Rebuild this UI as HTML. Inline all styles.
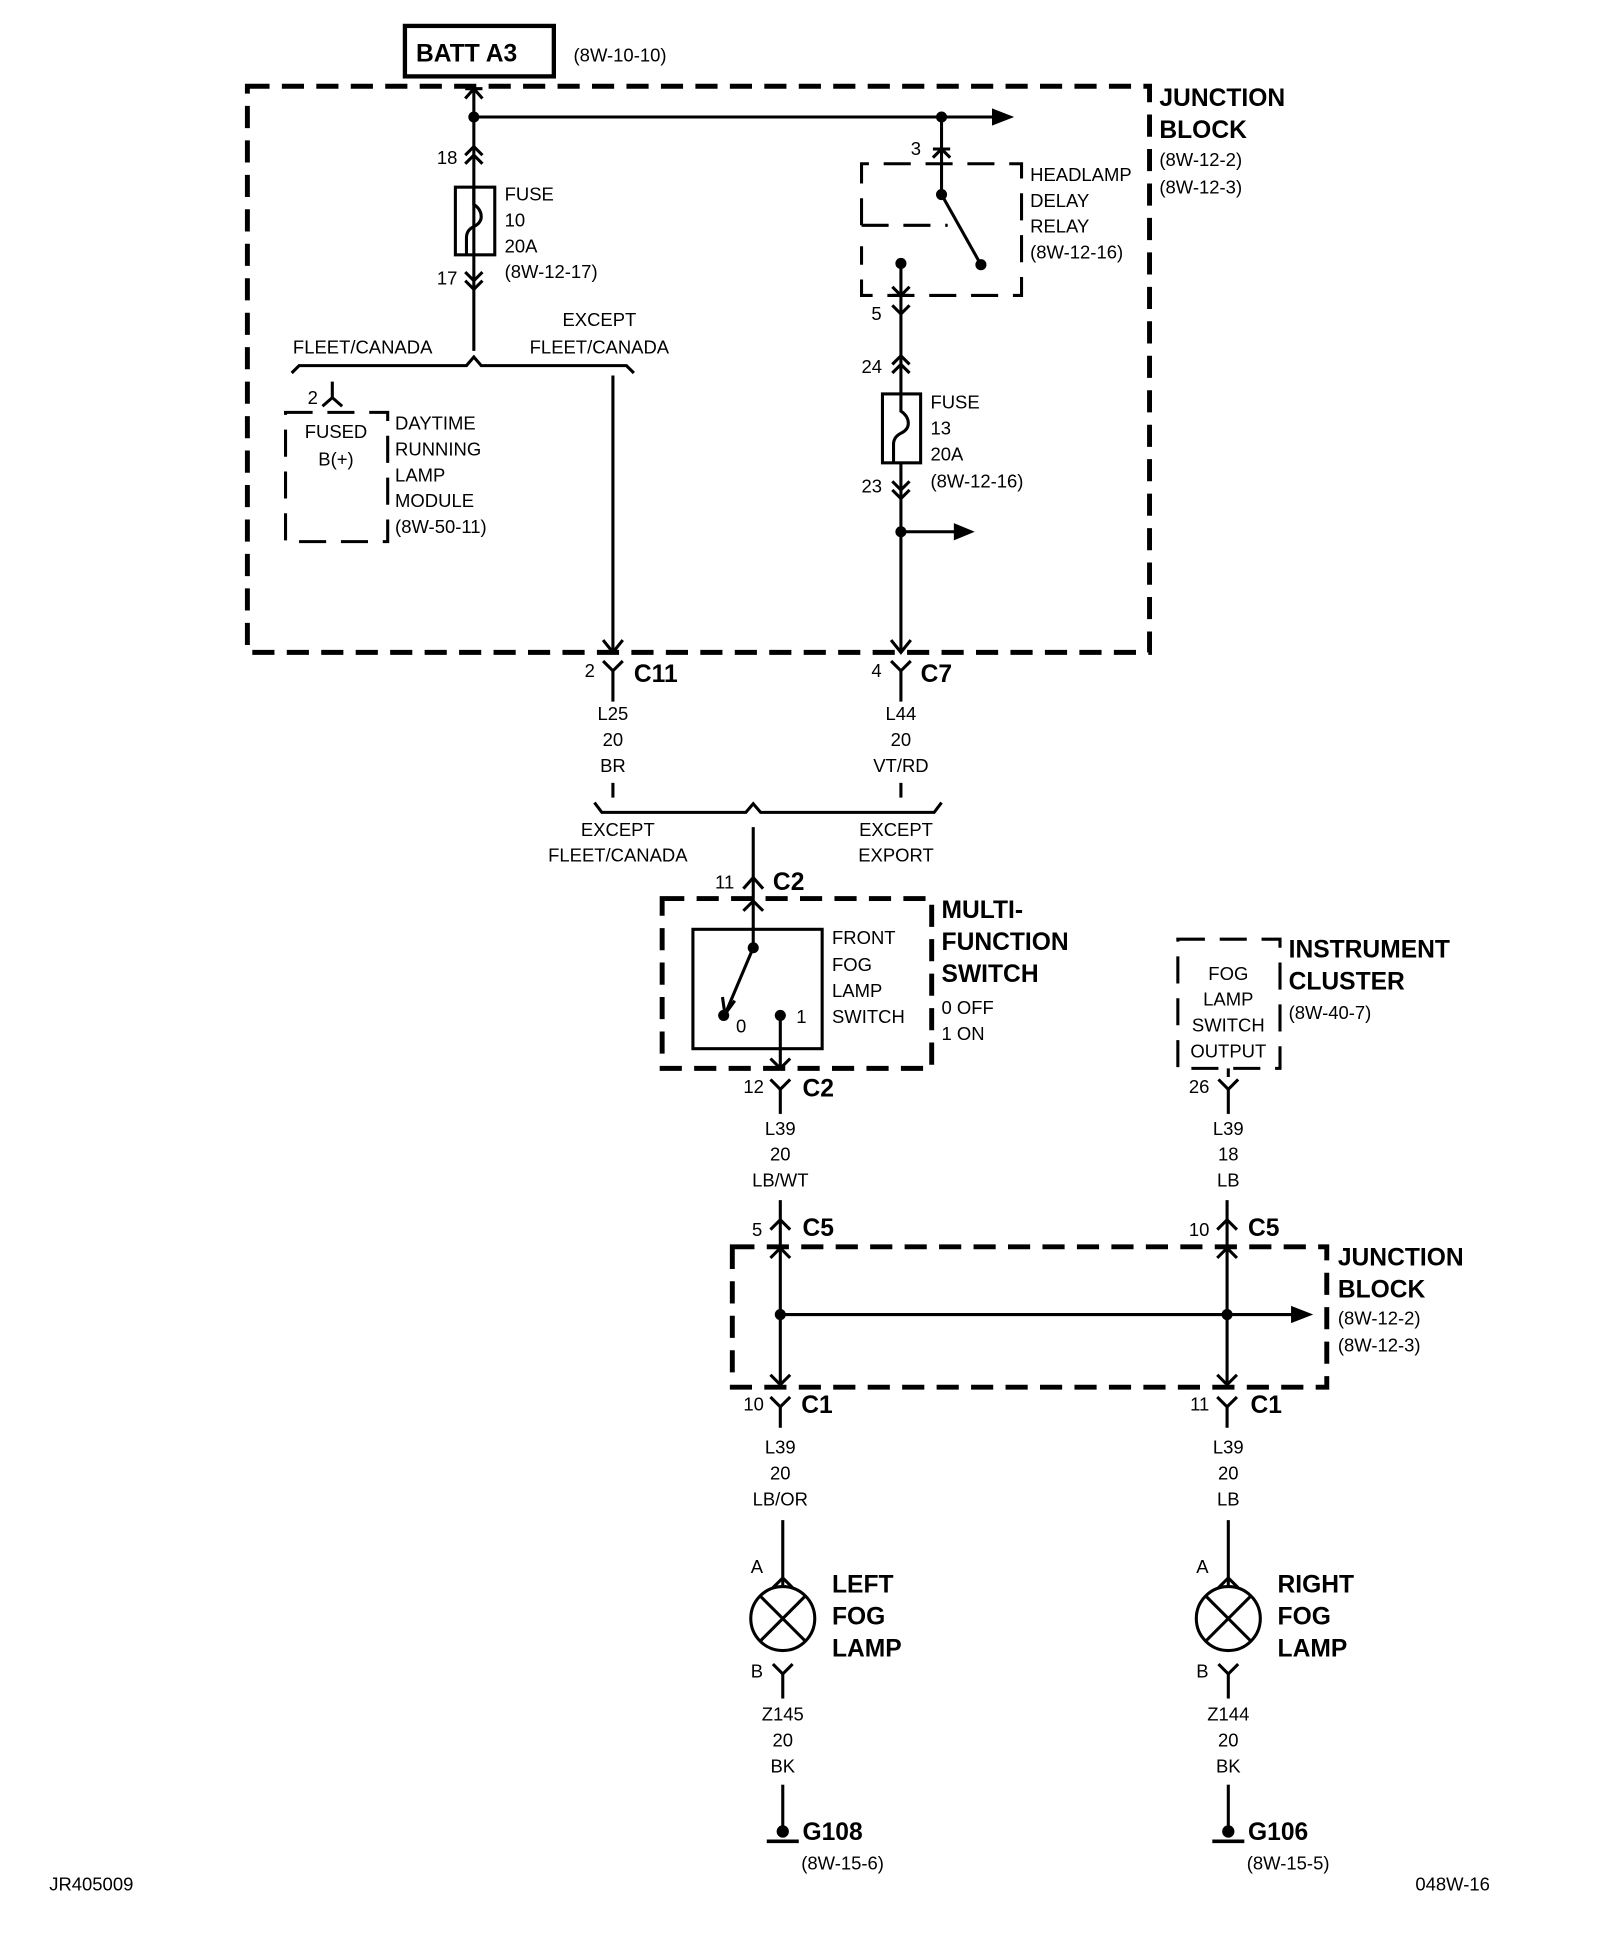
<!DOCTYPE html>
<html><head><meta charset="utf-8"><style>
html,body{margin:0;padding:0;background:#fff;}
svg{display:block;}
text{font-family:"Liberation Sans Narrow","Liberation Sans",sans-serif;fill:#000;}
.t{font-size:15px;}
.b{font-size:20px;font-weight:bold;}
.c{text-anchor:middle;}
</style></head><body>
<svg width="1600" height="1946" viewBox="0 0 1300 1581" xmlns="http://www.w3.org/2000/svg">
<g fill="none" stroke="#000" stroke-width="2.5">
<!-- BATT -->
<rect x="329" y="21" width="121" height="41" stroke-width="3.5"/>
<!-- junction block 1 -->
<rect x="201" y="70" width="733" height="460" stroke-width="4" stroke-dasharray="18,10"/>
<!-- main wire -->
<line x1="385" y1="70" x2="385" y2="285"/>
<polyline points="378,80 385,72 392,80"/><line x1="378" y1="72" x2="392" y2="72"/>
<line x1="385" y1="95" x2="810" y2="95"/>
<polyline points="378,126 385,119 392,126"/><polyline points="378,133 385,126 392,133"/>
<rect x="370" y="152" width="32" height="55"/>
<path d="M385,152 v14 q6,4 6,10 q0,5 -6,8 q-6,3 -6,9 v14"/>
<polyline points="378,221 385,228 392,221"/><polyline points="378,228 385,235 392,228"/>
<polyline points="237,303 243,297 379,297 385,290 391,297 509,297 515,303"/>
<!-- DRL -->
<line x1="270" y1="310" x2="270" y2="323"/><polyline points="262,330 270,323 278,330"/>
<rect x="232" y="335" width="83" height="105" stroke-dasharray="22,12"/>
<!-- except wire -->
<line x1="498" y1="305" x2="498" y2="530"/>
<polyline points="490,520 498,530 506,520"/>
<polyline points="490,537 498,545 506,537"/><line x1="498" y1="545" x2="498" y2="570"/>
<!-- relay side -->
<line x1="765" y1="95" x2="765" y2="158"/>
<polyline points="758,128 765,121 772,128"/><line x1="758" y1="121" x2="772" y2="121"/>
<path d="M700,183 V133 H830 V240 H700 V200" stroke-dasharray="22,12"/>
<line x1="700" y1="183" x2="770" y2="183" stroke-dasharray="22,12"/>
<line x1="765" y1="158" x2="797" y2="215"/>
<line x1="732" y1="214" x2="732" y2="530"/>
<polyline points="725,233 732,240 739,233"/><line x1="725" y1="240" x2="739" y2="240"/>
<polyline points="725,248 732,255 739,248"/>
<polyline points="725,296 732,289 739,296"/><polyline points="725,303 732,296 739,303"/>
<rect x="717" y="320" width="31" height="56" fill="#fff"/>
<path d="M732,320 v14 q6,4 6,10 q0,5 -6,8 q-6,3 -6,9 v15"/>
<polyline points="725,391 732,398 739,391"/><polyline points="725,398 732,405 739,398"/>
<line x1="732" y1="432" x2="780" y2="432"/>
<polyline points="724,520 732,530 740,520"/>
<polyline points="724,537 732,545 740,537"/><line x1="732" y1="545" x2="732" y2="570"/>
<line x1="498" y1="636" x2="498" y2="648"/><line x1="732" y1="636" x2="732" y2="648"/>
<polyline points="483,652 489,660 606,660 612,653 618,660 759,660 765,652"/>
<!-- MFS -->
<line x1="612" y1="672" x2="612" y2="770"/>
<polyline points="604,722 612,713 620,722"/>
<polyline points="604,740 612,732 620,740"/>
<rect x="538" y="730" width="219" height="138" stroke-width="4" stroke-dasharray="18,10"/>
<rect x="563" y="755" width="105" height="97"/>
<line x1="612" y1="770" x2="590" y2="822"/>
<polyline points="587,810 589,824 597,813"/>
<line x1="634" y1="825" x2="634" y2="868"/>
<polyline points="626,860 634,868 642,860"/>
<polyline points="626,877 634,885 642,877"/><line x1="634" y1="885" x2="634" y2="905"/>
<line x1="634" y1="975" x2="634" y2="1127"/>
<polyline points="626,999 634,991 642,999"/>
<polyline points="626,1022 634,1014 642,1022"/>
<!-- IC -->
<rect x="957" y="763" width="83" height="105" stroke-dasharray="22,12"/>
<line x1="998" y1="868" x2="998" y2="875"/>
<polyline points="990,877 998,885 1006,877"/><line x1="998" y1="885" x2="998" y2="905"/>
<line x1="997" y1="975" x2="997" y2="1127"/>
<polyline points="989,999 997,991 1005,999"/>
<polyline points="989,1022 997,1014 1005,1022"/>
<!-- JB2 -->
<rect x="595" y="1013" width="483" height="114" stroke-width="4" stroke-dasharray="18,10"/>
<line x1="634" y1="1068" x2="1055" y2="1068"/>
<polyline points="626,1117 634,1125 642,1117"/>
<polyline points="626,1135 634,1143 642,1135"/><line x1="634" y1="1143" x2="634" y2="1160"/>
<polyline points="989,1117 997,1125 1005,1117"/>
<polyline points="989,1135 997,1143 1005,1135"/><line x1="997" y1="1143" x2="997" y2="1160"/>
<!-- lamps -->
<line x1="636" y1="1235" x2="636" y2="1288"/>
<polyline points="628,1290 636,1282 644,1290"/>
<circle cx="636" cy="1315" r="26"/>
<line x1="618" y1="1297" x2="654" y2="1333"/><line x1="654" y1="1297" x2="618" y2="1333"/>
<polyline points="628,1352 636,1360 644,1352"/><line x1="636" y1="1360" x2="636" y2="1380"/>
<line x1="636" y1="1450" x2="636" y2="1488"/>
<line x1="623" y1="1496" x2="649" y2="1496" stroke-width="3"/>
<line x1="998" y1="1235" x2="998" y2="1288"/>
<polyline points="990,1290 998,1282 1006,1290"/>
<circle cx="998" cy="1315" r="26"/>
<line x1="980" y1="1297" x2="1016" y2="1333"/><line x1="1016" y1="1297" x2="980" y2="1333"/>
<polyline points="990,1352 998,1360 1006,1352"/><line x1="998" y1="1360" x2="998" y2="1380"/>
<line x1="998" y1="1450" x2="998" y2="1488"/>
<line x1="985" y1="1496" x2="1011" y2="1496" stroke-width="3"/>
</g>
<g fill="#000">
<circle cx="385" cy="95" r="4.5"/><circle cx="765" cy="95" r="4.5"/>
<polygon points="806,88 824,95 806,102"/>
<circle cx="765" cy="158" r="4.5"/><circle cx="797" cy="215" r="4.5"/><circle cx="732" cy="214" r="4.5"/>
<circle cx="732" cy="432" r="4.5"/><polygon points="775,425 792,432 775,439"/>
<circle cx="612" cy="770" r="4.5"/><circle cx="588" cy="825" r="4.5"/><circle cx="634" cy="825" r="4.5"/>
<circle cx="634" cy="1068" r="4.5"/><circle cx="997" cy="1068" r="4.5"/>
<polygon points="1049,1061 1067,1068 1049,1075"/>
<circle cx="636" cy="1488" r="5"/><circle cx="998" cy="1488" r="5"/>
</g>
<text x="338" y="50" class="b">BATT A3</text>
<text x="466" y="50" class="t">(8W-10-10)</text>
<text x="942" y="86" class="b">JUNCTION</text><text x="942" y="112" class="b">BLOCK</text>
<text x="942" y="135" class="t">(8W-12-2)</text><text x="942" y="157" class="t">(8W-12-3)</text>
<text x="355" y="133" class="t">18</text><text x="355" y="231" class="t">17</text>
<text x="410" y="163" class="t">FUSE</text><text x="410" y="184" class="t">10</text><text x="410" y="205" class="t">20A</text><text x="410" y="226" class="t">(8W-12-17)</text>
<text x="238" y="287" class="t">FLEET/CANADA</text>
<text x="487" y="265" class="t c">EXCEPT</text><text x="487" y="287" class="t c">FLEET/CANADA</text>
<text x="250" y="328" class="t">2</text>
<text x="273" y="356" class="t c">FUSED</text><text x="273" y="378" class="t c">B(+)</text>
<text x="321" y="349" class="t">DAYTIME</text><text x="321" y="370" class="t">RUNNING</text><text x="321" y="391" class="t">LAMP</text><text x="321" y="412" class="t">MODULE</text><text x="321" y="433" class="t">(8W-50-11)</text>
<text x="740" y="126" class="t">3</text>
<text x="837" y="147" class="t">HEADLAMP</text><text x="837" y="168" class="t">DELAY</text><text x="837" y="189" class="t">RELAY</text><text x="837" y="210" class="t">(8W-12-16)</text>
<text x="708" y="260" class="t">5</text><text x="700" y="303" class="t">24</text><text x="700" y="400" class="t">23</text>
<text x="756" y="332" class="t">FUSE</text><text x="756" y="353" class="t">13</text><text x="756" y="374" class="t">20A</text><text x="756" y="396" class="t">(8W-12-16)</text>
<text x="475" y="550" class="t">2</text><text x="515" y="554" class="b">C11</text>
<text x="708" y="550" class="t">4</text><text x="748" y="554" class="b">C7</text>
<text x="498" y="585" class="t c">L25</text><text x="498" y="606" class="t c">20</text><text x="498" y="627" class="t c">BR</text>
<text x="732" y="585" class="t c">L44</text><text x="732" y="606" class="t c">20</text><text x="732" y="627" class="t c">VT/RD</text>
<text x="502" y="679" class="t c">EXCEPT</text><text x="502" y="700" class="t c">FLEET/CANADA</text>
<text x="728" y="679" class="t c">EXCEPT</text><text x="728" y="700" class="t c">EXPORT</text>
<text x="581" y="722" class="t">11</text><text x="628" y="723" class="b">C2</text>
<text x="765" y="746" class="b">MULTI-</text><text x="765" y="772" class="b">FUNCTION</text><text x="765" y="798" class="b">SWITCH</text>
<text x="765" y="824" class="t">0 OFF</text><text x="765" y="845" class="t">1 ON</text>
<text x="676" y="767" class="t">FRONT</text><text x="676" y="789" class="t">FOG</text><text x="676" y="810" class="t">LAMP</text><text x="676" y="831" class="t">SWITCH</text>
<text x="598" y="839" class="t">0</text><text x="647" y="831" class="t">1</text>
<text x="604" y="888" class="t">12</text><text x="652" y="891" class="b">C2</text>
<text x="634" y="922" class="t c">L39</text><text x="634" y="943" class="t c">20</text><text x="634" y="964" class="t c">LB/WT</text>
<text x="998" y="796" class="t c">FOG</text><text x="998" y="817" class="t c">LAMP</text><text x="998" y="838" class="t c">SWITCH</text><text x="998" y="859" class="t c">OUTPUT</text>
<text x="1047" y="778" class="b">INSTRUMENT</text><text x="1047" y="804" class="b">CLUSTER</text><text x="1047" y="828" class="t">(8W-40-7)</text>
<text x="966" y="888" class="t">26</text>
<text x="998" y="922" class="t c">L39</text><text x="998" y="943" class="t c">18</text><text x="998" y="964" class="t c">LB</text>
<text x="611" y="1004" class="t">5</text><text x="652" y="1004" class="b">C5</text>
<text x="966" y="1004" class="t">10</text><text x="1014" y="1004" class="b">C5</text>
<text x="1087" y="1028" class="b">JUNCTION</text><text x="1087" y="1054" class="b">BLOCK</text>
<text x="1087" y="1076" class="t">(8W-12-2)</text><text x="1087" y="1098" class="t">(8W-12-3)</text>
<text x="604" y="1146" class="t">10</text><text x="651" y="1148" class="b">C1</text>
<text x="967" y="1146" class="t">11</text><text x="1016" y="1148" class="b">C1</text>
<text x="634" y="1181" class="t c">L39</text><text x="634" y="1202" class="t c">20</text><text x="634" y="1223" class="t c">LB/OR</text>
<text x="998" y="1181" class="t c">L39</text><text x="998" y="1202" class="t c">20</text><text x="998" y="1223" class="t c">LB</text>
<text x="610" y="1278" class="t">A</text><text x="610" y="1363" class="t">B</text>
<text x="972" y="1278" class="t">A</text><text x="972" y="1363" class="t">B</text>
<text x="676" y="1294" class="b">LEFT</text><text x="676" y="1320" class="b">FOG</text><text x="676" y="1346" class="b">LAMP</text>
<text x="1038" y="1294" class="b">RIGHT</text><text x="1038" y="1320" class="b">FOG</text><text x="1038" y="1346" class="b">LAMP</text>
<text x="636" y="1398" class="t c">Z145</text><text x="636" y="1419" class="t c">20</text><text x="636" y="1440" class="t c">BK</text>
<text x="998" y="1398" class="t c">Z144</text><text x="998" y="1419" class="t c">20</text><text x="998" y="1440" class="t c">BK</text>
<text x="652" y="1495" class="b">G108</text><text x="651" y="1519" class="t">(8W-15-6)</text>
<text x="1014" y="1495" class="b">G106</text><text x="1013" y="1519" class="t">(8W-15-5)</text>
<text x="40" y="1536" class="t">JR405009</text><text x="1150" y="1536" class="t">048W-16</text>
</svg>
</body></html>
